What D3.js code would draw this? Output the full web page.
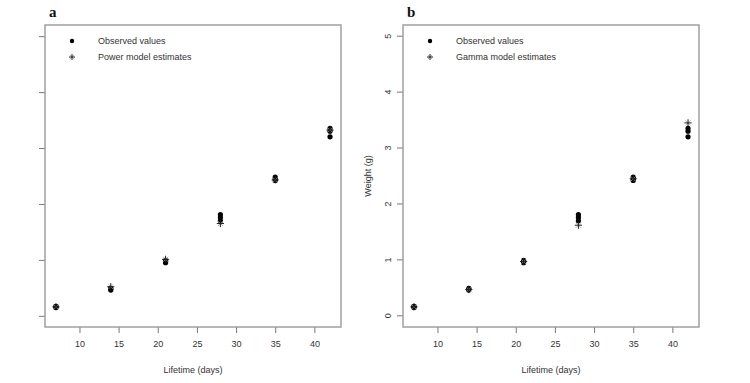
<!DOCTYPE html>
<html>
<head>
    <style>
        body { margin: 0; background: #fff; }
        .tick text, .lbl { font-family: "Liberation Sans", Arial, sans-serif; font-size: 9px; fill: #333; }
        .ttl { font-family: "Liberation Serif", "DejaVu Serif", serif; font-size: 15px; font-weight: bold; fill: #111; }
    </style>
</head>
<body>
    <div id="chart"></div>
    <script src="https://d3js.org/d3.v7.min.js"></script>
    <script>
        // Data
        const days = [7, 14, 21, 28, 35, 42];
        const observed = [
            [0.15, 0.16, 0.17],
            [0.46, 0.48, 0.49],
            [0.95, 0.97, 0.99],
            [1.70, 1.76, 1.81],
            [2.42, 2.45, 2.48],
            [3.20, 3.30, 3.35]
        ];
        const powerEst = [0.16, 0.52, 1.01, 1.65, 2.43, 3.32];
        const gammaEst = [0.16, 0.47, 0.97, 1.62, 2.45, 3.45];
        const xTicks = [10, 15, 20, 25, 30, 35, 40];
        const yTicks = [0, 1, 2, 3, 4, 5];

        const panels = [
            { title: "a", model: "Power model estimates", est: powerEst, left: 45, yLabels: false },
            { title: "b", model: "Gamma model estimates", est: gammaEst, left: 403, yLabels: true }
        ];

        const width = 750, height = 383;
        const svg = d3.select("#chart").append("svg")
            .attr("width", width)
            .attr("height", height);

        const boxTop = 25, boxBottom = 327, boxW = 296;

        // star marker like R pch=8 (the diagonals come out faint in the scan)
        function star(g, cx, cy, r) {
            const d = r * 0.7;
            g.append("path")
                .attr("d", `M${cx - d},${cy - d}L${cx + d},${cy + d}M${cx - d},${cy + d}L${cx + d},${cy - d}`)
                .attr("stroke", "#999").attr("stroke-width", 0.8).attr("fill", "none");
            g.append("path")
                .attr("d", `M${cx - r},${cy}L${cx + r},${cy}M${cx},${cy - r}L${cx},${cy + r}`)
                .attr("stroke", "#222").attr("stroke-width", 1).attr("fill", "none");
        }

        panels.forEach(p => {
            const x = d3.scaleLinear().domain([5.6, 43.4]).range([p.left, p.left + boxW]);
            const y = d3.scaleLinear().domain([-0.2, 5.2]).range([boxBottom, boxTop]);
            const g = svg.append("g");

            // x axis
            const xa = g.append("g")
                .attr("transform", `translate(0,${boxBottom})`)
                .call(d3.axisBottom(x).tickValues(xTicks).tickSize(6).tickPadding(8));
            xa.select(".domain").remove();
            xa.selectAll("line").attr("stroke", "#777");

            // y axis
            const ya = g.append("g")
                .attr("transform", `translate(${p.left},0)`)
                .call(d3.axisLeft(y).tickValues(yTicks).tickFormat(d3.format("d")).tickSize(6).tickPadding(6));
            ya.select(".domain").remove();
            ya.selectAll("line").attr("stroke", "#777");
            if (p.yLabels) {
                ya.selectAll(".tick").attr("transform", null);
                ya.selectAll(".tick line").attr("transform", d => `translate(0,${y(d)})`);
                ya.selectAll(".tick text")
                    .attr("transform", d => `translate(-15,${y(d)}) rotate(-90)`)
                    .attr("x", 0).attr("y", 0).attr("dy", "0.32em")
                    .attr("text-anchor", "middle");
                g.append("text").attr("class", "lbl")
                    .attr("transform", `translate(${p.left - 32},${(boxTop + boxBottom) / 2}) rotate(-90)`)
                    .attr("text-anchor", "middle")
                    .text("Weight (g)");
            } else {
                ya.selectAll("text").remove();
            }

            // box
            g.append("rect")
                .attr("x", p.left).attr("y", boxTop)
                .attr("width", boxW).attr("height", boxBottom - boxTop)
                .attr("fill", "none").attr("stroke", "#999").attr("stroke-width", 1.4);

            g.append("text").attr("class", "lbl")
                .attr("x", p.left + boxW / 2).attr("y", 373)
                .attr("text-anchor", "middle")
                .text("Lifetime (days)");

            g.append("text").attr("class", "ttl")
                .attr("x", p.left + 4).attr("y", 17)
                .text(p.title);

            // observed points and model estimates
            days.forEach((d, i) => {
                observed[i].forEach(v => {
                    g.append("circle")
                        .attr("cx", x(d)).attr("cy", y(v)).attr("r", 2.6)
                        .attr("fill", "#000");
                });
                star(g, x(d), y(p.est[i]), 3.6);
            });

            // legend
            const lx = p.left + 27;
            g.append("circle").attr("cx", lx).attr("cy", 41).attr("r", 2.2).attr("fill", "#000");
            star(g, lx, 57, 3);
            g.append("text").attr("class", "lbl").attr("x", lx + 26).attr("y", 41).attr("dy", "0.35em").text("Observed values");
            g.append("text").attr("class", "lbl").attr("x", lx + 26).attr("y", 57).attr("dy", "0.35em").text(p.model);
        });
    </script>
</body>
</html>
